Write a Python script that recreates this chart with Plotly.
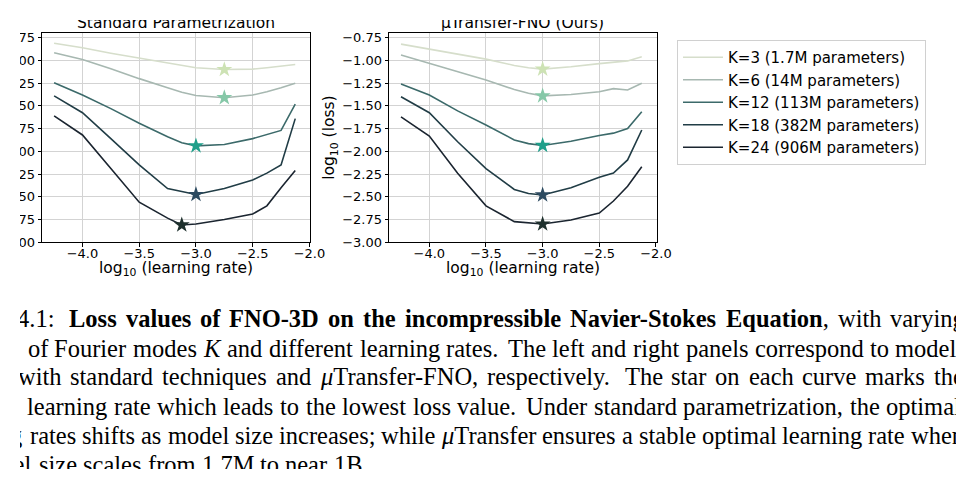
import re
import numpy as np
import plotly.graph_objects as go

# log10 learning-rate grid shared by every curve
log_lr = [-4.25, -4.0, -3.75, -3.5, -3.25, -3.125, -3.0, -2.75, -2.5, -2.375, -2.25, -2.125]

k_names = ["K=3 (1.7M parameters)", "K=6 (14M parameters)", "K=12 (113M parameters)",
           "K=18 (382M parameters)", "K=24 (906M parameters)"]

# standard parametrization, log10(loss)
std_k3 = [-0.81, -0.86, -0.92, -0.975, -1.03, -1.06, -1.08, -1.10, -1.095, -1.08, -1.065, -1.045]
std_k6 = [-0.915, -0.99, -1.09, -1.20, -1.30, -1.35, -1.385, -1.41, -1.38, -1.345, -1.30, -1.25]
std_k12 = [-1.245, -1.38, -1.53, -1.69, -1.84, -1.905, -1.94, -1.925, -1.86, -1.815, -1.77, -1.48]
std_k18 = [-1.39, -1.575, -1.86, -2.15, -2.41, -2.445, -2.475, -2.41, -2.315, -2.24, -2.15, -1.64]
std_k24 = [-1.61, -1.82, -2.19, -2.56, -2.735, -2.81, -2.80, -2.75, -2.69, -2.60, -2.40, -2.21]

# muTransfer-FNO, log10(loss)
mut_k3 = [-0.82, -0.875, -0.93, -0.985, -1.055, -1.08, -1.095, -1.07, -1.035, -1.02, -1.005, -0.96]
mut_k6 = [-0.94, -1.03, -1.12, -1.215, -1.32, -1.36, -1.39, -1.375, -1.345, -1.31, -1.325, -1.25]
mut_k12 = [-1.26, -1.38, -1.555, -1.71, -1.875, -1.915, -1.935, -1.89, -1.825, -1.80, -1.75, -1.565]
mut_k18 = [-1.40, -1.575, -1.895, -2.19, -2.42, -2.465, -2.48, -2.40, -2.285, -2.24, -2.095, -1.765]
mut_k24 = [-1.62, -1.832, -2.242, -2.60, -2.774, -2.79, -2.80, -2.756, -2.68, -2.547, -2.385, -2.169]

std_curves = [std_k3, std_k6, std_k12, std_k18, std_k24]
mut_curves = [mut_k3, mut_k6, mut_k12, mut_k18, mut_k24]

line_colors = ["#d6decb", "#a7b8b1", "#3c6a6a", "#213d46", "#1b2530"]
star_colors = ["#cde2b4", "#86c8a8", "#1f9f8a", "#2c4a60", "#1e302d"]

# caption of the figure, one entry per printed line (hidden first word, visible words)
caption_prefix = ["Figure 4.1:", "numbers", "trained", "optimal", "learning", "model"]
caption_lines = [
    "<b>Loss values of FNO-3D on the incompressible Navier-Stokes Equation</b>, with varying",
    "of Fourier modes <i>K</i> and different learning rates. The left and right panels correspond to models",
    "with standard techniques and <i>μ</i>Transfer-FNO, respectively. The star on each curve marks the",
    "learning rate which leads to the lowest loss value. Under standard parametrization, the optimal",
    "rates shifts as model size increases; while <i>μ</i>Transfer ensures a stable optimal learning rate when",
    "size scales from 1.7M to near 1B.",
]

# the picture is a crop of a paper page: the canvas starts 20px in from the top/left
W, H = 936, 449


def px(x):
    return (x - 20) / W


def py(y):
    return 1 - (y - 20) / H


# Times advance widths (1/1000 em), used to justify the caption lines
LOW = "abcdefghijklmnopqrstuvwxyz"
UP = "ABCDEFGHIJKLMNOPQRSTUVWXYZ"
REG = dict(zip(LOW, [444, 500, 444, 500, 444, 333, 500, 500, 278, 278, 500, 278, 778,
                     500, 500, 500, 500, 333, 389, 278, 500, 500, 722, 500, 500, 444]))
REG.update(zip(UP, [722, 667, 667, 722, 611, 556, 722, 722, 333, 389, 722, 611, 889,
                    722, 722, 556, 722, 667, 556, 611, 722, 722, 944, 722, 722, 611]))
BOLD = dict(zip(LOW, [500, 556, 444, 556, 444, 333, 500, 556, 278, 333, 556, 278, 833,
                      556, 500, 556, 556, 444, 389, 333, 556, 500, 722, 500, 500, 444]))
BOLD.update(zip(UP, [722, 667, 722, 722, 667, 611, 778, 778, 389, 500, 778, 667, 944,
                     722, 778, 611, 778, 722, 556, 667, 722, 722, 1000, 722, 722, 667]))
for tab in (REG, BOLD):
    tab.update({".": 250, ",": 250, ";": 278, ":": 278, "-": 333, "(": 333, ")": 333, "μ": 500})
    tab.update({d: 500 for d in "0123456789"})


def split_words(markup):
    words, bold = [], False
    for tok in markup.split(" "):
        is_bold = bold or tok.startswith("<b>")
        tok = tok.replace("<b>", "")
        if "</b>" in tok:
            head, tail = tok.split("</b>")
            tok, bold = f"<b>{head}</b>{tail}", False
        elif is_bold:
            tok, bold = f"<b>{tok}</b>", True
        words.append((tok, is_bold))
    return words


def width(word, bold, size):
    plain = re.sub("<[^>]+>", "", word)
    tab = BOLD if bold else REG
    return sum(tab.get(c, 500) for c in plain) / 1000 * size


fig = go.Figure()

for panel, curves in enumerate([std_curves, mut_curves]):
    xa = "x" if panel == 0 else "x2"
    ya = "y" if panel == 0 else "y2"
    for i, vals in enumerate(curves):
        fig.add_trace(go.Scatter(
            x=log_lr, y=vals, mode="lines", name=k_names[i],
            legendgroup=k_names[i], showlegend=(panel == 0),
            line=dict(color=line_colors[i], width=1.6),
            xaxis=xa, yaxis=ya))
        best = int(np.argmin(vals))
        fig.add_trace(go.Scatter(
            x=[log_lr[best]], y=[vals[best]], mode="markers",
            legendgroup=k_names[i], showlegend=False,
            marker=dict(symbol="star", size=12, color=star_colors[i], line=dict(width=0)),
            xaxis=xa, yaxis=ya))

axis_style = dict(showline=True, linecolor="black", linewidth=1, mirror=True,
                  ticks="outside", ticklen=3.5, tickwidth=1, tickcolor="black",
                  showgrid=True, gridcolor="#d3d3d3", gridwidth=0.8, zeroline=False,
                  automargin=False,
                  tickfont=dict(family="DejaVu Sans", size=13, color="black"))
x_style = dict(axis_style, range=[-4.355, -1.995], tick0=-4, dtick=0.5, tickformat=".1f",
               ticklabelstandoff=-4)
y_style = dict(axis_style, range=[-3.0, -0.70], tick0=-3, dtick=0.25, tickformat=".2f")

fig.update_layout(
    xaxis=dict(x_style, domain=[px(42.2), px(310)], anchor="y"),
    yaxis=dict(y_style, domain=[py(242.2), py(33.2)], anchor="x"),
    xaxis2=dict(x_style, domain=[px(389.1), px(656.5)], anchor="y2"),
    yaxis2=dict(y_style, domain=[py(242.2), py(33.2)], anchor="x2"),
)

ann = []
label_font = dict(family="DejaVu Sans", size=15.5, color="black")
for xd, yd, title in [("x domain", "y domain", "Standard Parametrization"),
                      ("x2 domain", "y2 domain", "μTransfer-FNO (Ours)")]:
    ann.append(dict(text=title, xref=xd, yref=yd, x=0.5, y=1, xanchor="center",
                    yanchor="bottom", showarrow=False, font=label_font, borderpad=0))
    ann.append(dict(text="log<sub>10</sub> (learning rate)", xref=xd, yref=yd, x=0.5, y=0,
                    xanchor="center", yanchor="top", yshift=-15.5, showarrow=False,
                    font=label_font, borderpad=0))
    ann.append(dict(text="log<sub>10</sub> (loss)", xref=xd, yref=yd, x=0, y=0.5,
                    xanchor="center", yanchor="middle", xshift=-59, textangle=-90,
                    showarrow=False, font=label_font, borderpad=0))

# caption: baseline, first visible word start, last word end (page px); None = not justified
cap_size = 24.5
cap_font = dict(family="Liberation Serif", size=cap_size, color="black")
cap_rows = [(327.3, 68.3, 964), (357.3, 26.7, 965), (386.0, 17, 963),
            (415.7, 26, 960), (444.3, 29.3, 963), (473.7, 38, None)]
space = 0.25 * cap_size
for (base, x0, x1), prefix, line in zip(cap_rows, caption_prefix, caption_lines):
    words = split_words(line)
    widths = [width(w, b, cap_size) for w, b in words]
    # sentence ends get a wider space, as TeX does
    weights = [1.5 if re.sub("<[^>]+>", "", w).endswith(".") else 1.0 for w, _ in words[:-1]]
    gap = space if x1 is None else (x1 - x0 - sum(widths)) / sum(weights)
    ybot = py(base + 5.2)
    pre_end = 55.5 if prefix.startswith("Figure") else x0 - gap
    ann.append(dict(text=prefix, xref="paper", yref="paper", x=px(pre_end), y=ybot,
                    xanchor="right", yanchor="bottom", showarrow=False,
                    font=cap_font, borderpad=0))
    x = x0
    for k, (w, _) in enumerate(words):
        ann.append(dict(text=w, xref="paper", yref="paper", x=px(x), y=ybot,
                        xanchor="left", yanchor="bottom", showarrow=False,
                        font=cap_font, borderpad=0))
        if k < len(weights):
            x += widths[k] + gap * weights[k]

fig.update_layout(
    annotations=ann,
    width=W, height=H,
    margin=dict(l=0, r=0, t=0, b=0),
    paper_bgcolor="white", plot_bgcolor="white",
    font=dict(family="DejaVu Sans", color="black"),
    legend=dict(x=px(677), y=py(40), xanchor="left", yanchor="top",
                bgcolor="white", bordercolor="#d0d0d0", borderwidth=1,
                font=dict(family="DejaVu Sans", size=15, color="black"),
                itemwidth=40, traceorder="grouped", tracegroupgap=0),
)

fig.write_html("out.html", post_script="document.body.style.margin='20px 0 0 20px';")
